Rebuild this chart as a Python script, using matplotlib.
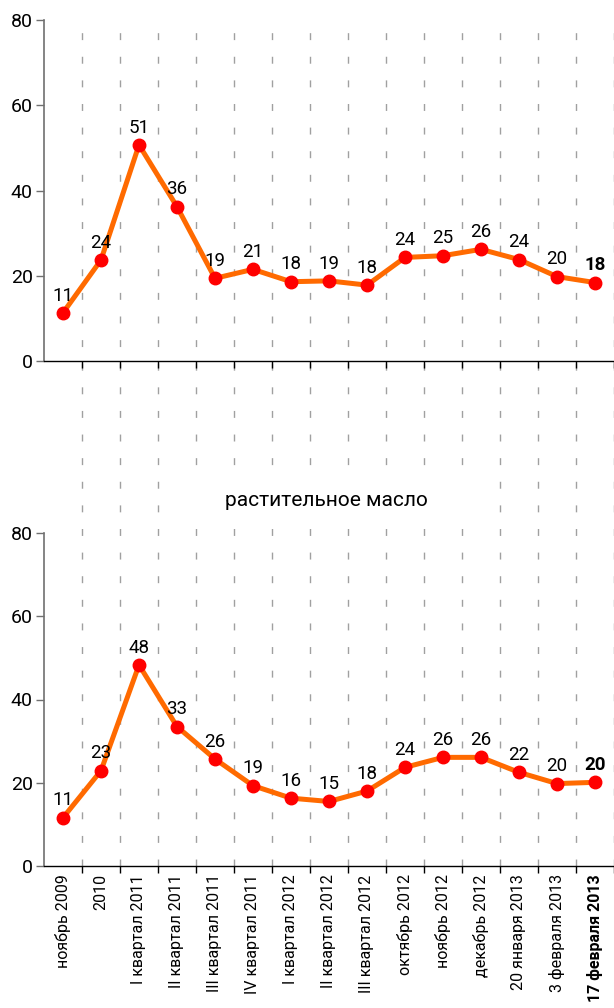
import numpy as np
import matplotlib
matplotlib.use('Agg')
from matplotlib import pyplot as plt

plt.rcParams['font.family'] = ['Roboto', 'DejaVu Sans']

categories = ['ноябрь 2009', '2010', 'I квартал 2011', 'II квартал 2011',
              'III квартал 2011', 'IV квартал 2011', 'I квартал 2012',
              'II квартал 2012', 'III квартал 2012', 'октябрь 2012',
              'ноябрь 2012', 'декабрь 2012', '20 января 2013',
              '3 февраля 2013', '17 февраля 2013']

top_values = [11.3, 23.7, 50.7, 36.2, 19.4, 21.5, 18.6, 18.8, 17.8,
              24.3, 24.7, 26.2, 23.8, 19.8, 18.4]
top_labels = [11, 24, 51, 36, 19, 21, 18, 19, 18, 24, 25, 26, 24, 20, 18]

oil_values = [11.6, 22.9, 48.3, 33.5, 25.7, 19.3, 16.3, 15.5, 18.0,
              23.7, 26.1, 26.1, 22.5, 19.8, 20.1]
oil_labels = [11, 23, 48, 33, 26, 19, 16, 15, 18, 24, 26, 26, 22, 20, 20]

oil_title = 'растительное масло'
yticks = [0, 20, 40, 60, 80]

W, H = 614, 1008
fig = plt.figure(figsize=(W / 100, H / 100), dpi=100)

def fx(px):
    return px / W

def fy(px):
    return 1 - px / H

n = len(categories)
x = np.arange(n)
bounds = np.arange(n + 1) - 0.5

# dashed separators running through both charts
bg = fig.add_axes([fx(44), fy(866), fx(570), fy(27) - fy(866)])
bg.set_xlim(-0.5, n - 0.5)
bg.set_ylim(0, 1)
bg.axis('off')
for b in bounds[1:]:
    bg.plot([b, b], [0, 1], color='#a0a0a0', lw=1.0, dashes=(5, 12),
            clip_on=False, zorder=0)


def draw(ax, values, labels, show_xlabels):
    ax.patch.set_alpha(0)
    ax.set_xlim(-0.5, n - 0.5)
    ax.set_ylim(0, 80)
    ax.plot(x, values, color='#ff6a00', lw=3.6, zorder=3, clip_on=False)
    ax.plot(x, values, 'o', color='#ff0000', ms=9, mec='#ff0000',
            zorder=4, clip_on=False)
    for i, (v, lab) in enumerate(zip(values, labels)):
        ax.annotate(str(lab), (i, v), xytext=(0, 6), textcoords='offset points',
                    ha='center', va='bottom', fontsize=13.5,
                    fontweight='bold' if i == n - 1 else 'normal')
    for s in ['top', 'right']:
        ax.spines[s].set_visible(False)
    ax.spines['left'].set_color('#707070')
    ax.spines['left'].set_linewidth(1.2)
    ax.spines['bottom'].set_color('black')
    ax.spines['bottom'].set_linewidth(1.0)
    ax.set_yticks(yticks)
    ax.tick_params(axis='y', length=6, width=1, color='#707070',
                   labelsize=14, pad=2)
    ax.set_xticks(bounds[1:])
    ax.set_xticklabels([])
    ax.tick_params(axis='x', which='major', length=5, width=1, color='black')
    if show_xlabels:
        ax.set_xticks(x, minor=True)
        ax.set_xticklabels(categories, minor=True, rotation=90, fontsize=11.5)
        ax.tick_params(axis='x', which='minor', length=0, pad=6)
        ax.get_xticklabels(minor=True)[-1].set_fontweight('bold')


ax1 = fig.add_axes([fx(44), fy(361), fx(570), fy(20) - fy(361)])
draw(ax1, top_values, top_labels, False)

ax2 = fig.add_axes([fx(44), fy(866), fx(570), fy(533) - fy(866)])
draw(ax2, oil_values, oil_labels, True)

fig.text(fx(326), fy(500), oil_title, ha='center', va='center', fontsize=15,
         zorder=5)
# white band behind the title
fig.patches.append(plt.Rectangle((fx(165), fy(525)), fx(330), fy(476) - fy(525),
                                 transform=fig.transFigure, facecolor='white',
                                 edgecolor='none', zorder=2))

fig.savefig('out.png', dpi=100)
